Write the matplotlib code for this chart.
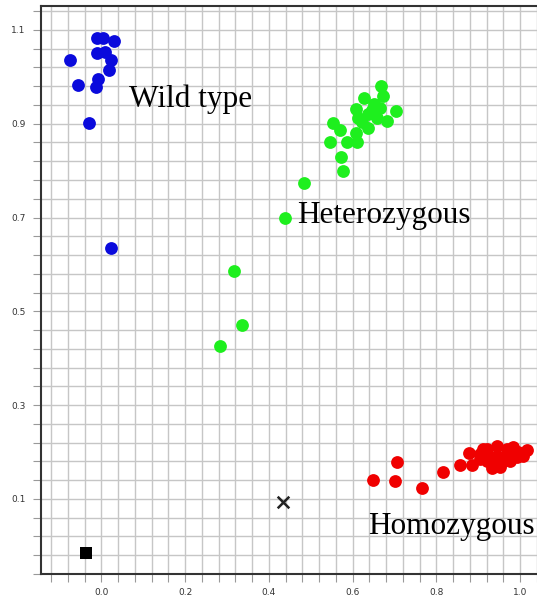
import matplotlib
matplotlib.use('Agg')
import matplotlib.pyplot as plt
import numpy as np

# wild type (blue)
wt_x = [-0.075, -0.011, 0.004, 0.030, -0.011, 0.008, 0.023, 0.018, -0.008, -0.013, -0.056, -0.030, 0.023]
wt_y = [1.036, 1.083, 1.083, 1.077, 1.051, 1.053, 1.036, 1.015, 0.996, 0.979, 0.983, 0.902, 0.634]

# heterozygous (green)
het_x = [0.667, 0.672, 0.626, 0.650, 0.607, 0.703, 0.636, 0.612, 0.657, 0.681, 0.552, 0.636, 0.569,
         0.607, 0.545, 0.586, 0.610, 0.572, 0.576, 0.483, 0.438, 0.316, 0.335, 0.283, 0.646, 0.665, 0.622]
het_y = [0.981, 0.960, 0.955, 0.943, 0.932, 0.928, 0.921, 0.913, 0.913, 0.906, 0.902, 0.891, 0.887,
         0.881, 0.860, 0.860, 0.860, 0.830, 0.800, 0.774, 0.698, 0.585, 0.470, 0.426, 0.930, 0.934, 0.904]

# homozygous (red)
hom_x = [0.648, 0.705, 0.700, 0.765, 0.815, 0.856, 0.884, 0.877, 0.903, 0.920, 0.944, 0.968, 0.982, 1.016,
         1.006, 0.992, 0.975, 0.956, 0.934, 0.920, 0.903, 0.944, 0.968, 0.932, 0.951, 0.910, 0.994, 0.922]
hom_y = [0.140, 0.179, 0.138, 0.123, 0.157, 0.172, 0.172, 0.198, 0.196, 0.206, 0.213, 0.206, 0.211, 0.204,
         0.191, 0.189, 0.181, 0.179, 0.170, 0.181, 0.185, 0.191, 0.194, 0.166, 0.168, 0.206, 0.200, 0.191]

ntc_x, ntc_y = [-0.037], [-0.015]   # black square
und_x, und_y = [0.433], [0.094]     # cross

labels = ['Wild type', 'Heterozygous', 'Homozygous']
label_x = [0.065, 0.467, 0.636]
label_y = [0.936, 0.689, 0.026]

fig = plt.figure(figsize=(5.37, 5.98), dpi=100)
ax = fig.add_axes([0.0764, 0.0401, 0.9236, 0.9499])

ax.scatter(wt_x, wt_y, s=85, color='#0a0adc', zorder=3, linewidths=0)
ax.scatter(het_x, het_y, s=85, color='#1eef1e', zorder=3, linewidths=0)
ax.scatter(hom_x, hom_y, s=85, color='#f00000', zorder=3, linewidths=0)
ax.scatter(ntc_x, ntc_y, s=70, marker='s', color='black', zorder=3, linewidths=0)
ax.scatter(und_x, und_y, s=70, marker='x', color='#222222', zorder=3, linewidths=1.8)

for t, x, y in zip(labels, label_x, label_y):
    ax.text(x, y, t, fontsize=22.5, family='Liberation Serif', va='baseline', ha='left', zorder=4)

ax.set_xlim(-0.144, 1.039)
ax.set_ylim(-0.057, 1.151)

ax.set_xticks(np.arange(0, 1.01, 0.2))
ax.set_xticks(np.arange(-0.12, 1.04, 0.04), minor=True)
ax.set_yticks(np.arange(0.1, 1.11, 0.2))
ax.set_yticks(np.arange(-0.06, 1.15, 0.04), minor=True)
ax.set_xticklabels(['%.1f' % v for v in np.arange(0, 1.01, 0.2)])
ax.set_yticklabels(['%.1f' % v for v in np.arange(0.1, 1.11, 0.2)])

ax.grid(which='both', color='#c6c6c6', linewidth=1.0, zorder=0)
ax.set_axisbelow(True)
ax.tick_params(which='both', length=6, width=0.8, color='#999999', labelsize=6.5, labelcolor='#333333')
ax.tick_params(axis='x', pad=4)
ax.tick_params(axis='y', pad=5)

for s in ['left', 'bottom', 'top']:
    ax.spines[s].set_color('#333333')
    ax.spines[s].set_linewidth(1.5)
ax.spines['right'].set_visible(False)

fig.savefig('out.png', dpi=100)
